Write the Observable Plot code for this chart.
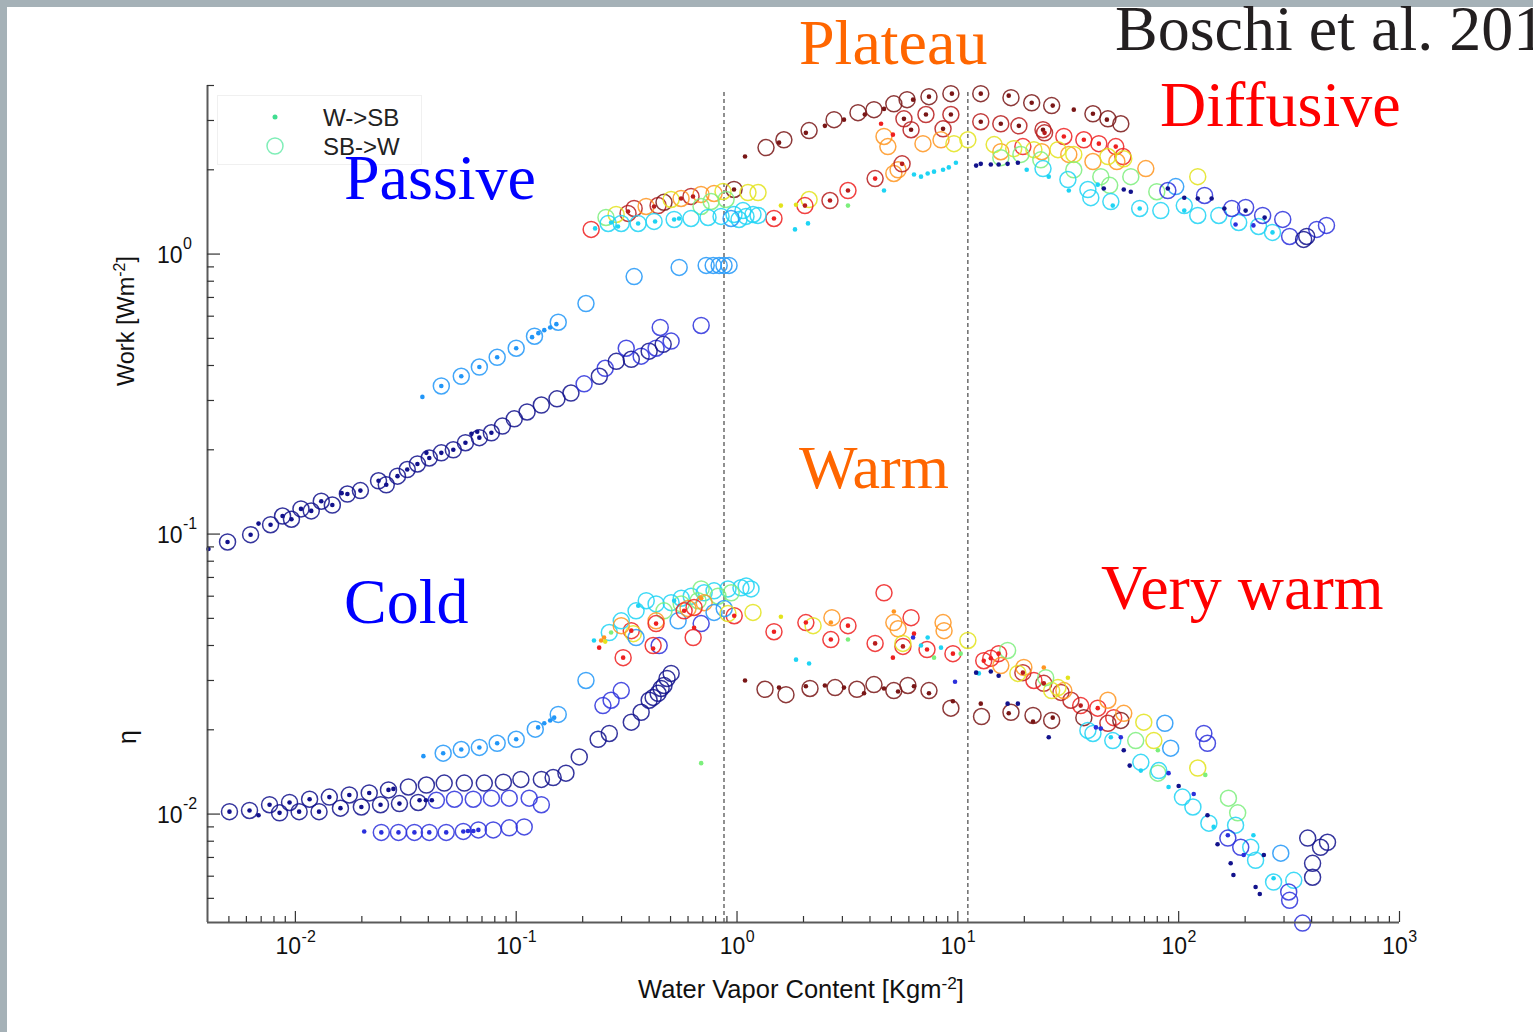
<!DOCTYPE html>
<html><head><meta charset="utf-8">
<script src="https://cdn.jsdelivr.net/npm/d3@7"></script>
<script src="https://cdn.jsdelivr.net/npm/@observablehq/plot@0.6"></script>
<style>
body{margin:0;background:#fff;}
#wrap{position:relative;width:1533px;height:1032px;overflow:hidden;background:#a5b1b7;}
#inner{position:absolute;left:7px;top:7px;width:1526px;height:1025px;background:#fff;}
.ann{position:absolute;font-family:"Liberation Serif","Times New Roman",serif;font-size:64px;line-height:64px;white-space:nowrap;}
.lab{position:absolute;font-family:"Liberation Sans",Arial,sans-serif;color:#111;white-space:nowrap;line-height:1;}
.rot{transform:translate(-50%,-50%) rotate(-90deg);}
.hor{transform:translate(-50%,-50%);}
sup{font-size:0.68em;line-height:0;vertical-align:0.55em;}
#legend{position:absolute;left:217px;top:95px;width:203px;height:68px;border:1px solid #f0f0f0;background:#fff;}
#legend .lt{position:absolute;left:105px;font-family:"Liberation Sans",Arial,sans-serif;font-size:24px;color:#222;line-height:1;transform:translateY(-50%);}
</style>
</head><body>
<div id="wrap">
  <div id="inner"></div>
  <div id="legend">
    <svg width="203" height="68" style="position:absolute;left:0;top:0">
      <circle cx="57" cy="21" r="2.5" fill="#40dd90"></circle>
      <circle cx="57" cy="50" r="8" fill="none" stroke="#80eeb8" stroke-width="1.5"></circle>
    </svg>
    <div class="lt" style="top:22px">W-&gt;SB</div>
    <div class="lt" style="top:51px">SB-&gt;W</div>
  </div>
  <div class="lab rot" style="left:127px;top:321px;font-size:23.5px">Work [Wm<sup>-2</sup>]</div>
  <div class="lab rot" style="left:127px;top:737px;font-size:25px">η</div>
  <div class="lab hor" style="left:801px;top:990px;font-size:25.5px">Water Vapor Content [Kgm<sup>-2</sup>]</div>
  <div class="ann" style="left:344px;top:146px;color:#0000ff">Passive</div>
  <div class="ann" style="left:799px;top:11px;color:#ff6600">Plateau</div>
  <div class="ann" style="left:1115px;top:-3px;color:#231f20">Boschi et al. 2013</div>
  <div class="ann" style="left:1160px;top:73px;color:#ff0000">Diffusive</div>
  <div class="ann" style="left:799px;top:436px;color:#ff6600;font-size:62px;line-height:62px">Warm</div>
  <div class="ann" style="left:344px;top:570px;color:#0000ff">Cold</div>
  <div class="ann" style="left:1101px;top:556px;color:#ff0000">Very warm</div>
</div>
<script>
// ---- scales / ticks ----
const xDomain = [0.004, 1000];
const yDomain = [0.0041, 4];
const xMajor = [0.01, 0.1, 1, 10, 100, 1000];
const xMajorNeg = [0.01, 0.1];
const xMajorNegExp = ["-2", "-1"];
const xMajorPos = [1, 10, 100, 1000];
const xMajorPosExp = ["0", "1", "2", "3"];
const yMajor = [0.01, 0.1, 1];
const yMajorExp = ["-2", "-1", "0"];
const mantissas = [2, 3, 4, 5, 6, 7, 8, 9];
const xMinor = [0.005,0.006,0.007,0.008,0.009].concat(...[0.01,0.1,1,10,100].map(p => mantissas.map(m => +(m*p).toPrecision(3))));
const yMinor = [0.005,0.006,0.007,0.008,0.009].concat(...[0.01,0.1].map(p => mantissas.map(m => +(m*p).toPrecision(3))), [2,3,4]);
const dividers = [0.873, 11.1];

// colour levels (jet-like)
const palette = ["#12128c","#2b30dc","#2196f8","#1ed4f4","#7cef7c","#e3e31c","#ff9520","#ee2020","#b71c1c","#791616"];

// ---- Work: cold / passive low branches ----
const workColdCircles = [
[0.00493,0.0937,0],[0.00627,0.0995,0],[0.00772,0.108,0],[0.00875,0.116,0],[0.0096,0.113,0],[0.0106,0.123,0],[0.0118,0.121,0],[0.0131,0.131,0],[0.0147,0.127,0],[0.0172,0.139,0],[0.0197,0.143,0],[0.0238,0.155,0],[0.0258,0.150,0],[0.029,0.161,0],[0.0321,0.170,0],[0.0357,0.178,0],[0.0404,0.187,0],[0.0458,0.195,0],[0.0519,0.200,0],[0.0589,0.212,0],[0.0681,0.221,0],[0.0772,0.230,0],[0.0866,0.243,0],[0.098,0.258,0],[0.112,0.273,0],[0.130,0.289,0],[0.153,0.304,0],[0.177,0.319,0],[0.203,0.344,1],[0.238,0.366,0],[0.253,0.391,1],[0.284,0.414,0],[0.315,0.461,1],[0.332,0.421,0],[0.368,0.432,1],[0.400,0.450,0],[0.430,0.461,1],[0.463,0.476,0],[0.503,0.489,1],[0.449,0.547,1],[0.688,0.556,1],
[0.0458,0.338,2],[0.0564,0.366,2],[0.0681,0.395,2],[0.082,0.428,2],[0.1,0.461,2],[0.121,0.509,2],[0.155,0.571,2],[0.207,0.666,2],[0.342,0.831,2],[0.547,0.896,2],[0.725,0.911,2],[0.78,0.911,2],[0.83,0.911,2],[0.873,0.911,2],[0.92,0.911,2]
];
const workColdDots = [
[0.00404,0.0885,0],[0.00493,0.0937,0],[0.00627,0.0995,0],[0.00681,0.109,0],[0.00772,0.108,0],[0.00875,0.116,0],[0.0096,0.113,0],[0.0106,0.123,0],[0.0118,0.121,0],[0.0131,0.131,0],[0.0147,0.127,0],[0.0162,0.140,0],[0.0172,0.139,0],[0.0197,0.143,0],[0.0238,0.155,0],[0.0258,0.150,0],[0.029,0.161,0],[0.0321,0.170,0],[0.0357,0.178,0],[0.0392,0.195,0],[0.0404,0.187,0],[0.0458,0.195,0],[0.0519,0.200,0],[0.0589,0.212,0],[0.0627,0.228,0],[0.0666,0.232,0],[0.0681,0.221,0],[0.0772,0.230,0],
[0.0376,0.309,2],[0.0458,0.338,2],[0.0564,0.366,2],[0.0681,0.395,2],[0.082,0.428,2],[0.1,0.461,2],[0.118,0.505,2],[0.126,0.522,2],[0.134,0.535,2],[0.1425,0.547,2],[0.152,0.562,2]
];
// ---- Work: passive upper band ----
const workPassiveCircles = [
[0.2185,1.225,7],[1.47,1.34,7],[0.321,1.397,8],[0.342,1.455,8],[0.439,1.491,8],[0.467,1.53,9],[0.969,1.701,9],[0.619,1.606,8],[0.3875,1.479,6],[0.558,1.58,6],[0.687,1.633,6],[0.787,1.646,6],[0.2835,1.385,5],[0.503,1.567,5],[0.864,1.673,5],[1.121,1.659,5],[1.245,1.659,5],[0.255,1.351,4],[0.687,1.479,4],[0.763,1.541,4],[0.892,1.567,4],[0.261,1.286,3],[0.299,1.286,3],[0.3565,1.286,3],[0.421,1.308,3],[0.519,1.329,3],[0.619,1.34,3],[0.739,1.351,3],[0.8465,1.363,3],[0.969,1.385,3],[1.021,1.329,3],[1.098,1.363,3],[1.181,1.385,3],[1.064,1.43,3],[1.245,1.374,3],[0.94,1.34,2]
];
const workPassiveDots = [
[0.2277,1.235,3],[0.269,1.297,3],[0.289,1.255,3],[0.3565,1.286,3],[0.4256,1.308,3],[0.519,1.329,3],[0.5465,1.34,3],[0.321,1.419,8],[0.421,1.479,8],[0.558,1.58,8],[0.632,1.606,8],[0.969,1.701,9],[1.47,1.34,7]
];
// ---- Work: warm / plateau ----
const workWarmCircles = [
[1.353,2.40,9],[1.63,2.56,9],[2.12,2.76,9],[2.75,3.02,9],[3.53,3.2,9],[4.17,3.28,9],[5.13,3.44,9],[5.89,3.56,9],[7.4,3.65,9],[9.3,3.74,9],
[5.7,3.04,8],[6.14,2.78,8],[7.17,3.15,8],[9.3,3.15,8],[8.57,2.8,8],
[4.63,2.63,6],[4.82,2.42,6],[6.95,2.48,6],[8.39,2.56,6],[5.36,2.0,6],[5.13,1.94,6],
[9.6,2.48,5],[2.12,1.566,5],
[2.03,1.49,7],[2.636,1.553,8],[3.18,1.686,7],[4.22,1.86,8],[5.59,2.1,8]
];
const workWarmDots = [
[1.087,2.23,9],[1.55,2.5,9],[2.05,2.71,9],[2.5,2.87,9],[3.05,3.02,9],[3.79,3.15,9],[4.63,3.3,9],[6.27,3.56,9],[7.4,3.65,9],[9.4,3.74,9],[5.7,3.04,9],[6.14,2.78,9],[7.17,3.15,9],[9.3,3.15,9],[8.57,2.8,9],
[4.49,2.92,7],[5.08,2.67,7],[2.03,1.49,8],[2.636,1.553,8],[3.18,1.686,8],[4.22,1.86,7],[5.59,2.1,8],
[4.63,1.686,3],[6.33,1.923,3],[6.81,1.89,3],[7.3,1.94,3],[7.8,1.97,3],[8.57,2.0,3],[9.1,2.04,3],[9.8,2.12,3],[2.096,1.287,3],[1.83,1.225,3],
[1.58,1.49,5],[1.85,1.5,5],[3.18,1.49,4]
];
// ---- Work: diffusive ----
const workHotCircles = [
[12.7,3.74,9],[17.4,3.62,9],[21.6,3.47,9],[26.6,3.39,9],[40.9,3.17,9],[47.8,3.04,9],[54.7,2.92,9],
[12.7,2.97,8],[15.65,2.92,8],[18.9,2.87,8],[24.3,2.78,8],[24.7,2.71,8],
[30.2,2.63,7],[37.2,2.56,7],[43.5,2.48,7],[51.9,2.42,7],[55.9,2.23,7],[19.7,2.42,7],
[15.65,2.32,6],[24,2.32,6],[31.8,2.27,6],[40.9,2.14,6],[52.5,2.14,6],[71,2.02,6],
[11.1,2.56,5],[14.6,2.46,5],[17.9,2.38,5],[22.1,2.36,5],[28.4,2.36,5],[33.5,2.27,5],[47.8,2.23,5],[56.4,2.19,5],[122,1.89,5],
[15.65,2.21,4],[19.3,2.27,4],[23.75,2.17,4],[33.5,2.0,4],[44.4,1.89,4],[60.7,1.89,4],[79.6,1.67,4],[48.7,1.76,4],
[24.3,2.02,3],[31.5,1.846,3],[38.8,1.70,3],[40,1.59,3],[49.3,1.54,3],[66.6,1.455,3],[83,1.43,3],[106,1.49,3],[122,1.374,3],[152,1.374,3],[187,1.297,3],[230,1.255,3],[266,1.195,3],
[97,1.742,2],
[89.3,1.686,1],[131,1.619,1],[174,1.455,1],[201,1.467,1],[240,1.374,1],[296,1.33,1],[318,1.156,1],[422,1.225,1],[467,1.266,1],
[368,1.128,0],[380,1.156,0]
];
const workHotDots = [
[12.7,3.74,9],[17.0,3.68,9],[21.6,3.47,9],[26.9,3.39,9],[33.5,3.28,9],[40.9,3.17,9],[47.3,3.02,9],[12.7,2.97,9],[15.65,2.92,9],[18.9,2.87,9],[24.3,2.78,9],
[30.2,2.63,7],[37.2,2.56,7],[43.5,2.48,7],[51.9,2.42,7],[24.7,2.71,8],
[20.5,2.0,3],[25.8,1.89,3],[31.8,1.686,3],[50.3,1.49,3],[66.6,1.455,3],[106,1.43,3],[266,1.195,3],[43,1.77,3],
[12.1,2.07,0],[12.7,2.1,0],[14.1,2.09,0],[15.3,2.09,0],[16.8,2.1,0],[18.7,2.12,0],[45.8,1.715,0],[56.4,1.70,0],[60.7,1.67,0],[89.3,1.715,0],[106,1.59,0],[122,1.58,0],[141,1.58,0],[161,1.455,0],[201,1.43,0],[245,1.35,0],
[181,1.276,1],[218,1.266,1]
];
// ---- eta: cold ----
const etaColdCircles = [
[0.00503,0.0102,0],[0.0062,0.0103,0],[0.00764,0.0108,0],[0.00941,0.011,0],[0.0116,0.0113,0],[0.01425,0.0115,0],[0.01755,0.0117,0],[0.0216,0.0119,0],[0.0264,0.0122,0],[0.0325,0.0125,0],[0.0392,0.0127,0],[0.0472,0.0129,0],[0.0582,0.0129,0],[0.0717,0.0129,0],[0.0875,0.013,0],[0.105,0.0133,0],[0.130,0.0133,0],[0.147,0.0135,0],[0.168,0.014,0],
[0.00848,0.0101,0],[0.0104,0.0102,0],[0.0128,0.0102,0],[0.016,0.0105,0],[0.0199,0.0106,0],[0.0243,0.0108,0],[0.0296,0.0109,0],[0.036,0.011,0],[0.0435,0.0112,1],[0.0525,0.0113,1],[0.0639,0.0113,1],[0.0772,0.0114,1],[0.093,0.0114,1],[0.1145,0.0114,1],[0.130,0.0108,1],
[0.0245,0.0086,1],[0.0293,0.0086,1],[0.0346,0.0086,1],[0.0404,0.0086,1],[0.0482,0.0086,1],[0.0576,0.00867,1],[0.0674,0.00878,1],[0.0787,0.00878,1],[0.093,0.00893,1],[0.1087,0.009,1],
[0.0467,0.0165,2],[0.0564,0.017,2],[0.0681,0.0173,2],[0.082,0.0179,2],[0.1,0.0185,2],[0.122,0.0201,2],[0.155,0.0227,2],[0.207,0.030,2],
[0.193,0.016,0],[0.235,0.0185,0],[0.264,0.0194,0],[0.332,0.0213,0],[0.368,0.0231,0],[0.4,0.0255,0],[0.417,0.0261,0],[0.439,0.027,0],[0.453,0.0281,0],[0.467,0.0288,0],[0.482,0.0305,0],[0.503,0.0318,0],
[0.247,0.0244,1],[0.269,0.0255,1],[0.299,0.0276,1],[0.444,0.040,1],[0.688,0.0479,1],[0.541,0.049,2]
];
const etaColdDots = [
[0.00503,0.0102,0],[0.0062,0.0103,0],[0.00681,0.0099,0],[0.00764,0.0108,0],[0.00941,0.011,0],[0.0116,0.0113,0],[0.01425,0.0115,0],[0.01755,0.0117,0],[0.0216,0.0119,0],[0.0264,0.0122,0],[0.0278,0.0123,0],
[0.00848,0.0101,0],[0.0104,0.0102,0],[0.0128,0.0102,0],[0.016,0.0105,0],[0.0199,0.0106,0],[0.0243,0.0108,0],[0.0296,0.0109,0],[0.0365,0.0112,0],[0.039,0.0112,0],[0.0415,0.0112,0],
[0.0205,0.00867,1],[0.0245,0.0086,1],[0.0293,0.0086,1],[0.0346,0.0086,1],[0.0404,0.0086,1],[0.0482,0.0086,1],[0.0576,0.00867,1],[0.0605,0.0087,1],[0.064,0.0087,1],[0.0674,0.00878,1],
[0.038,0.0161,2],[0.0467,0.0165,2],[0.0564,0.017,2],[0.0681,0.0173,2],[0.082,0.0179,2],[0.1,0.0185,2],[0.1257,0.0204,2],[0.134,0.0211,2],[0.1425,0.0216,2],[0.1486,0.0221,2]
];
// ---- eta: passive cluster ----
const etaPassiveCircles = [
[0.264,0.0445,3],[0.305,0.0362,7],[0.332,0.0452,7],[0.339,0.0441,5],[0.349,0.0427,2],[0.299,0.049,3],[0.349,0.0532,3],[0.43,0.0563,3],[0.503,0.0569,3],[0.559,0.059,3],[0.62,0.060,3],[0.71,0.0617,3],[0.787,0.0627,3],[0.91,0.0637,3],[1.042,0.0643,3],[1.157,0.0637,3],[0.388,0.0578,3],[1.1,0.0653,3],
[0.467,0.0532,4],[0.559,0.0563,4],[0.666,0.0578,4],[0.82,0.060,4],[0.941,0.0617,4],[0.688,0.0637,4],
[0.43,0.049,6],[0.6,0.0542,6],[0.71,0.0569,6],[0.299,0.0471,6],
[0.43,0.0479,7],[0.576,0.0532,7],[0.639,0.0547,7],[0.971,0.0511,7],[0.417,0.040,7],[0.633,0.0427,7],
[0.787,0.0525,2],[0.875,0.0542,2],[1.181,0.0525,5],[0.91,0.052,5]
];
const etaPassiveDots = [
[0.2375,0.0393,7],[0.225,0.0417,3],[0.2425,0.0417,6],[0.25,0.0427,6],[0.253,0.0413,5],[0.269,0.0445,4],[0.305,0.0362,7],[0.332,0.0452,7],[0.43,0.0479,7],[0.417,0.039,7],[0.576,0.0532,7],[0.639,0.0463,7],[0.971,0.0511,7],[0.357,0.0555,3],[0.519,0.0578,3],[0.688,0.059,6],[0.688,0.0152,4]
];
// ---- eta: warm ----
const etaWarmCircles = [
[1.47,0.0448,7],[2.05,0.0483,7],[2.66,0.042,7],[3.18,0.0471,7],[4.22,0.0407,7],[5.64,0.0397,7],[7.25,0.0387,7],[9.5,0.0374,7],[14.1,0.036,7],[6.14,0.0503,7],[4.63,0.0617,7],
[2.69,0.0503,6],[5.13,0.0483,6],[5.36,0.0459,6],[8.57,0.0483,6],[8.66,0.0452,6],
[2.21,0.0471,5],[5.64,0.0407,5],[11.1,0.0417,5],
[1.339,0.0279,9],[1.666,0.0267,9],[2.14,0.0281,9],[2.78,0.0283,9],[3.49,0.0279,9],[4.17,0.029,9],[5.13,0.0276,9],[5.94,0.0288,9],[7.4,0.0276,9],[9.3,0.0239,9],[12.8,0.0223,9],[17.4,0.0231,9],[21.9,0.0225,9],[26.6,0.0216,9]
];
const etaWarmDots = [
[1.47,0.0448,7],[2.05,0.0483,7],[2.66,0.042,7],[3.18,0.0471,7],[4.22,0.0407,8],[5.64,0.0397,8],[7.25,0.0387,7],[9.5,0.0374,7],[14.1,0.036,7],[5.08,0.0362,7],[6.33,0.0441,7],
[1.58,0.0507,5],[3.18,0.042,4],[7.8,0.0362,4],[10.3,0.0374,4],
[1.85,0.0356,3],[2.12,0.0345,3],[7.3,0.0427,3],[8.39,0.0393,3],[6.81,0.040,3],[12.45,0.0318,3],
[5.13,0.0529,6],[2.66,0.0483,6],[6.27,0.0427,1],[9.71,0.0297,1],
[1.087,0.030,9],[1.549,0.0283,9],[2.05,0.0286,9],[2.5,0.0288,9],[3.05,0.0283,9],[3.76,0.027,9],[4.63,0.0281,9],[5.36,0.0274,9],[6.33,0.0286,9],[7.4,0.027,9],[9.5,0.0253,9],[12.7,0.0248,9],[17.0,0.0229,9],[21.9,0.0214,9],[26.9,0.0221,9],
[16.8,0.0248,0],[18.7,0.0248,0],[25.8,0.0188,0],[12.1,0.032,0],[14.1,0.0323,0],[15.3,0.0312,0]
];
// ---- eta: very warm ----
const etaHotCircles = [
[13.1,0.0353,7],[15.3,0.0374,7],[16.8,0.0384,4],[19.7,0.032,8],[24.5,0.0293,8],[29.3,0.0272,8],[36,0.0244,7],[43,0.0239,7],[50.8,0.0221,7],[54.7,0.0216,9],[37.2,0.0221,9],[47.8,0.0211,8],[22.1,0.030,7],[32.5,0.0255,8],
[19.9,0.0334,6],[30.2,0.0276,6],[47.8,0.0255,6],[56.4,0.0229,6],[15.65,0.0339,6],
[18.7,0.0318,5],[28.4,0.0283,5],[69.5,0.0213,5],[77.2,0.0183,5],[122,0.0146,5],[26.6,0.0276,5],
[25,0.0307,4],[63.9,0.0183,4],[80.5,0.014,4],[168,0.0114,4],[185,0.0101,4],
[38.8,0.0199,3],[40.9,0.0194,3],[50.3,0.0183,3],[67.4,0.0153,3],[81.3,0.0143,3],[104,0.0115,3],[116,0.0106,3],[137,0.00928,3],[181,0.00913,3],[212,0.00761,3],[223,0.00684,3],[269,0.00572,3],[332,0.0058,3],
[86.6,0.0211,2],[92,0.0172,2],[290,0.00725,2],
[130,0.0194,1],[135,0.0179,1],[167,0.00821,1],[191,0.00761,1],[315,0.00527,1],[318,0.00492,1],[364,0.00408,1],
[384,0.00821,0],[439,0.00761,0],[472,0.00793,0],[404,0.00667,0],[404,0.00595,0]
];
const etaHotDots = [
[13.1,0.0353,7],[15.3,0.0374,7],[19.7,0.032,8],[24.5,0.0293,8],[36,0.0244,8],[43,0.0239,7],
[56.4,0.0169,0],[60,0.0149,0],[100,0.0126,0],[135,0.0099,0],[150,0.0078,0],[172,0.00667,0],[177,0.00606,0],[223,0.00549,0],[233,0.00518,0],[243,0.00714,0],
[42.2,0.0204,1],[44.4,0.0202,1],[54.7,0.0188,1],[90,0.014,1],[117,0.0118,1],[167,0.0084,1],[197,0.00714,1],
[49.3,0.0188,3],[67.4,0.0143,3],[90,0.0125,3],[144,0.009,3],[218,0.0084,3],[269,0.0059,3],
[80.5,0.0169,4],[132,0.0138,4],[31.5,0.0307,5],[24.5,0.0334,6]
];

const circles = [].concat(workColdCircles, workPassiveCircles, workWarmCircles, workHotCircles, etaColdCircles, etaPassiveCircles, etaWarmCircles, etaHotCircles);
const dots = [].concat(workColdDots, workPassiveDots, workWarmDots, workHotDots, etaColdDots, etaPassiveDots, etaWarmDots, etaHotDots);

const W = 1526, H = 1025;
const mL = 200, mT = 78, mR = 134, mB = 110;
const plotW = W - mL - mR, plotH = H - mT - mB;
const font = "Liberation Sans, Arial, sans-serif";
const axisColor = "#5a5a5a";

const chart = Plot.plot({
  width: W, height: H,
  marginLeft: mL, marginTop: mT, marginRight: mR, marginBottom: mB,
  style: {background: "transparent", fontFamily: font, overflow: "visible"},
  x: {type: "log", domain: xDomain, axis: null},
  y: {type: "log", domain: yDomain, axis: null},
  color: {type: "ordinal", domain: d3.range(palette.length), range: palette},
  marks: [
    Plot.ruleX(dividers, {x: d => d, insetTop: 7, stroke: "#555", strokeWidth: 1.3, strokeDasharray: "4,3"}),
    Plot.dot(circles, {x: d => d[0], y: d => d[1], stroke: d => d[2], r: 8, strokeWidth: 1.5, strokeOpacity: 0.85, fill: "none"}),
    Plot.dot(dots, {x: d => d[0], y: d => d[1], fill: d => d[2], r: 2.3, stroke: "none"}),
    // axis lines
    Plot.ruleX([xDomain[0]], {stroke: axisColor, strokeWidth: 2}),
    Plot.ruleY([yDomain[0]], {stroke: axisColor, strokeWidth: 2}),
    // inward ticks
    Plot.tickX(xMajor, {x: d => d, insetTop: plotH - 11, stroke: "#333", strokeWidth: 1.2}),
    Plot.tickX(xMinor, {x: d => d, insetTop: plotH - 6, stroke: "#333", strokeWidth: 1.2}),
    Plot.tickY(yMajor, {y: d => d, insetRight: plotW - 13, stroke: "#333", strokeWidth: 1.2}),
    Plot.tickY(yMinor, {y: d => d, insetRight: plotW - 7, stroke: "#333", strokeWidth: 1.2}),
    // x tick labels
    Plot.text(xMajorNeg, {x: d => d, text: () => "10", frameAnchor: "bottom", textAnchor: "end", dx: 5.7, dy: 31.5, fontSize: 23, fill: "#111"}),
    Plot.text(xMajorNeg, {x: d => d, text: (d, i) => xMajorNegExp[i], frameAnchor: "bottom", textAnchor: "start", dx: 6.2, dy: 19, fontSize: 16, fill: "#111"}),
    Plot.text(xMajorPos, {x: d => d, text: () => "10", frameAnchor: "bottom", textAnchor: "end", dx: 8.3, dy: 31.5, fontSize: 23, fill: "#111"}),
    Plot.text(xMajorPos, {x: d => d, text: (d, i) => xMajorPosExp[i], frameAnchor: "bottom", textAnchor: "start", dx: 8.8, dy: 19, fontSize: 16, fill: "#111"}),
    // y tick labels
    Plot.text(yMajor, {y: d => d, text: () => "10", frameAnchor: "left", textAnchor: "end", dx: -25, dy: 2, fontSize: 23, fill: "#111"}),
    Plot.text(yMajor, {y: d => d, text: (d, i) => yMajorExp[i], frameAnchor: "left", textAnchor: "start", dx: -24.5, dy: -10, fontSize: 16, fill: "#111"})
  ]
});
document.getElementById("inner").appendChild(chart);
</script>
</body></html>
